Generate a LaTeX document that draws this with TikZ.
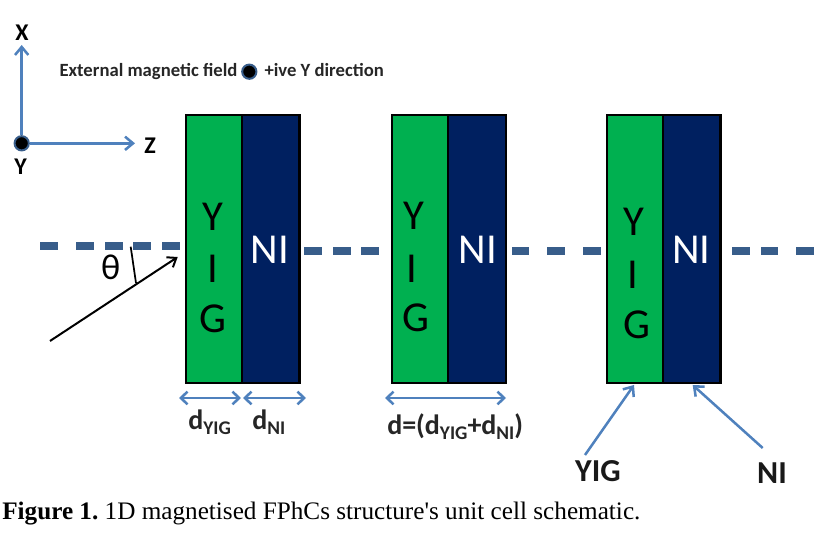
\documentclass[tikz,border=0pt]{standalone}
\usepackage{fontspec}
\setmainfont{Carlito}
\newfontfamily\capfont{Liberation Serif}
\usetikzlibrary{arrows.meta}
\definecolor{yigc}{HTML}{00B050}
\definecolor{nic}{HTML}{002060}
\definecolor{blu}{HTML}{4F81BD}
\definecolor{dashc}{HTML}{385D8A}
\tikzset{
  x=0.75pt,y=-0.75pt,
  layer/.style={draw=black,line width=1.7pt,minimum height=201.4pt,inner sep=0pt,anchor=north west},
  yiglayer/.style={layer,fill=yigc,minimum width=42pt},
  nilayer/.style={layer,fill=nic,minimum width=43.3pt},
  bluarrow/.style={draw=blu,line width=1.9pt,-{Straight Barb[length=6pt,width=10pt,line width=1.9pt]}},
  dblarrow/.style={draw=blu,line width=1.9pt,{Straight Barb[length=5pt,width=9.5pt,line width=1.9pt]}-{Straight Barb[length=5pt,width=9.5pt,line width=1.9pt]}},
  dashline/.style={draw=dashc,line width=6pt},
  lbl/.style={inner sep=0pt,font=\bfseries\fontsize{18}{20}\selectfont},
  smalllbl/.style={inner sep=0pt,anchor=base west,font=\bfseries\fontsize{14}{16}\selectfont,text=black!85},
  dimlbl/.style={inner sep=0pt,anchor=base west,font=\bfseries\fontsize{21}{23}\selectfont,text=black!85},
  ptrlbl/.style={inner sep=0pt,font=\bfseries\fontsize{24}{26}\selectfont,text=black!90},
  ltr/.style={inner sep=0pt,font=\fontsize{32}{34}\selectfont},
  dotmark/.style={circle,fill=black,draw=dashc,line width=1.5pt,minimum size=10.7pt,inner sep=0pt},
}
\newcommand{\subt}[1]{\raisebox{-3.5pt}{\fontsize{14.5}{16}\selectfont #1}}
\begin{document}
\begin{tikzpicture}
\useasboundingbox (0,0) rectangle (822,541);
% dashes
\foreach \a/\b in {40/58,76/94,105/123,133/151,162/180}{\draw[dashline] (\a,246.5)--(\b,246.5);}
\foreach \a/\b in {304/322,333/351,361/379,512/529,547/565,583/601,732/750,761/778,796/814}{\draw[dashline] (\a,251)--(\b,251);}
% cells
\node[yiglayer] (y1) at (184.5,113.6) {};
\node[nilayer] (n1) at (240.6,113.6) {};
\node[yiglayer] (y2) at (391,113.6) {};
\node[nilayer] (n2) at (447,113.6) {};
\node[yiglayer] (y3) at (605.6,113.6) {};
\node[nilayer] (n3) at (661.6,113.6) {};
\node[ltr] (ya) at (213,217) {Y};
\node[ltr] (ia) at (213,269) {I};
\node[ltr] (ga) at (213,318.5) {G};
\node[ltr] (yb) at (414,216) {Y};
\node[ltr] (ib) at (412,269) {I};
\node[ltr] (gb) at (416,318) {G};
\node[ltr] (yc) at (634,222) {Y};
\node[ltr] (ic) at (633,275) {I};
\node[ltr] (gc) at (637,325) {G};
\node[ltr,text=white] (na) at (270,250) {NI};
\node[ltr,text=white] (nb) at (478,250) {NI};
\node[ltr,text=white] (nc) at (691.5,250) {NI};
% axes
\node[dotmark] (o) at (21.7,143.3) {};
\coordinate (xt) at (21.7,45);
\coordinate (zt) at (135,143.3);
\draw[bluarrow] (o)--(xt);
\draw[bluarrow] (o)--(zt);
\node[lbl] (xl) at (22,33) {X};
\node[lbl] (zl) at (150,146) {Z};
\node[lbl] (yl) at (20.7,167) {Y};
\node[smalllbl] (ext) at (59.3,76.5) {External magnetic field};
\node[dotmark] (bd) at (249.3,71.7) {};
\node[smalllbl] (dir) at (264.3,76.5) {+ive Y direction};
% incident
\coordinate (pia) at (50,341);
\coordinate (pib) at (177.7,257);
\coordinate (pic) at (130.7,246.7);
\coordinate (pid) at (136,283);
\draw[black,line width=1.5pt,-{Straight Barb[length=6pt,width=9pt,line width=1.5pt]}] (pia)--(pib);
\draw[black,line width=1.3pt] (pic)--(pid);
\node[inner sep=0pt,font=\fontsize{27}{29}\selectfont] (th) at (110.7,267) {θ};
% dims
\coordinate (d1a) at (179,398); \coordinate (d1b) at (241,398);
\coordinate (d2a) at (243,398); \coordinate (d2b) at (306,398);
\coordinate (d3a) at (385,398); \coordinate (d3b) at (506,398);
\draw[dblarrow] (d1a)--(d1b);
\draw[dblarrow] (d2a)--(d2b);
\draw[dblarrow] (d3a)--(d3b);
\node[dimlbl] (dy) at (188,430) {d\subt{YIG}};
\node[dimlbl] (dn) at (252,430) {d\subt{NI}};
\node[dimlbl] (dd) at (387,435) {d=(d\subt{YIG}+d\subt{NI})};
% pointers
\node[ptrlbl] (ly) at (598,471) {YIG};
\node[ptrlbl] (ln) at (772,473) {NI};
\coordinate (pa) at (585,455); \coordinate (pb) at (634,385);
\coordinate (qa) at (762.7,448); \coordinate (qb) at (692.7,385);
\draw[bluarrow] (pa)--(pb);
\draw[bluarrow] (qa)--(qb);
% caption
\node[inner sep=0pt,anchor=base west,text=black,font=\capfont\fontsize{18.9}{20}\selectfont\frenchspacing] (cap) at (2,520) {\textbf{Figure 1.} 1D magnetised FPhCs structure's unit cell schematic.};
\end{tikzpicture}
\end{document}
